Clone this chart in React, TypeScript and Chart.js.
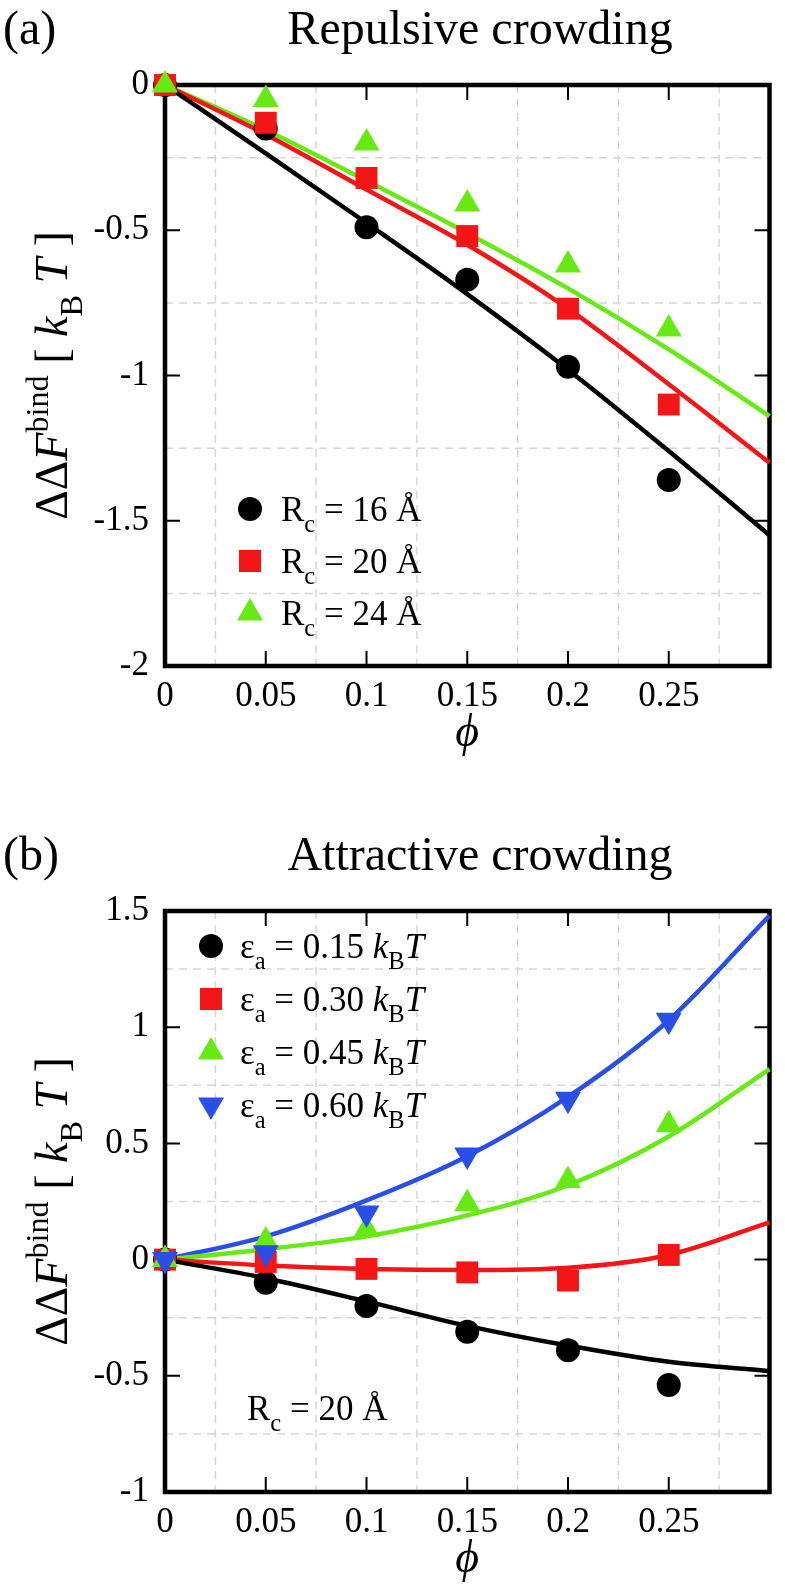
import React, { useEffect, useRef } from 'react';
import { Chart, registerables } from 'chart.js';

Chart.register(...registerables);

// ---------- data ----------
const phi = [0, 0.05, 0.1, 0.15, 0.2, 0.25];
const fitPhi = [0, 0.05, 0.1, 0.15, 0.2, 0.25, 0.3];

const xTicks = [0, 0.05, 0.1, 0.15, 0.2, 0.25, 0.3];
const xTickLabels = ['0', '0.05', '0.1', '0.15', '0.2', '0.25', ''];
const xMinor = [0.025, 0.075, 0.125, 0.175, 0.225, 0.275];

// Panel (a) repulsive crowding
const repRc16 = [0, -0.15, -0.49, -0.67, -0.97, -1.36];
const repRc20 = [0, -0.13, -0.32, -0.52, -0.77, -1.1];
const repRc24 = [0, -0.05, -0.2, -0.41, -0.62, -0.84];
const repFit16 = [0, -0.235, -0.475, -0.72, -0.98, -1.26, -1.55];
const repFit20 = [0, -0.17, -0.36, -0.55, -0.77, -1.03, -1.3];
const repFit24 = [0, -0.155, -0.33, -0.51, -0.7, -0.91, -1.14];
const yTicksA = [0, -0.5, -1, -1.5, -2];
const yTickLabelsA = ['0', '-0.5', '-1', '-1.5', '-2'];
const yMinorA = [-0.25, -0.75, -1.25, -1.75];

// Panel (b) attractive crowding
const attE15 = [0, -0.1, -0.2, -0.31, -0.39, -0.54];
const attE30 = [0, -0.01, -0.04, -0.055, -0.09, 0.02];
const attE45 = [0, 0.08, 0.13, 0.24, 0.34, 0.58];
const attE60 = [0, 0.03, 0.2, 0.45, 0.69, 1.03];
const attFit15 = [0, -0.08, -0.18, -0.285, -0.37, -0.44, -0.48];
const attFit30 = [0, -0.025, -0.04, -0.045, -0.035, 0.02, 0.16];
const attFit45 = [0, 0.045, 0.1, 0.19, 0.32, 0.53, 0.82];
const attFit60 = [0, 0.1, 0.255, 0.445, 0.7, 1.03, 1.48];
const yTicksB = [1.5, 1, 0.5, 0, -0.5, -1];
const yTickLabelsB = ['1.5', '1', '0.5', '0', '-0.5', '-1'];
const yMinorB = [1.25, 0.75, 0.25, -0.25, -0.75];

const legendA = ['16', '20', '24'];
const legendB = ['0.15', '0.30', '0.45', '0.60'];

// ---------- style ----------
const FONT = '"Liberation Serif", "Times New Roman", serif';
const BLACK = '#000000';
const RED = '#f41616';
const GREEN = '#66ea14';
const BLUE = '#2a4fe6';

type Run = { t: string; it?: boolean; pos?: 'sup' | 'sub' };

function drawRuns(ctx: CanvasRenderingContext2D, runs: Run[], x: number, y: number, size: number, align: 'left' | 'center') {
  const small = size * 0.7;
  let total = 0;
  const parts = runs.map((r) => {
    const s = r.pos ? small : size;
    const font = `${r.it ? 'italic ' : ''}${s}px ${FONT}`;
    ctx.font = font;
    const w = ctx.measureText(r.t).width;
    total += w;
    return { ...r, font, w };
  });
  let cx = align === 'center' ? x - total / 2 : x;
  ctx.textAlign = 'left';
  ctx.textBaseline = 'alphabetic';
  for (const p of parts) {
    ctx.font = p.font;
    const dy = p.pos === 'sup' ? -size * 0.42 : p.pos === 'sub' ? size * 0.32 : 0;
    ctx.fillText(p.t, cx, y + dy);
    cx += p.w;
  }
}

function drawMarker(ctx: CanvasRenderingContext2D, kind: string, x: number, y: number, color: string) {
  ctx.fillStyle = color;
  ctx.beginPath();
  if (kind === 'circle') {
    ctx.arc(x, y, 12, 0, Math.PI * 2);
  } else if (kind === 'rect') {
    ctx.rect(x - 11, y - 11, 22, 22);
  } else if (kind === 'up') {
    ctx.moveTo(x, y - 15);
    ctx.lineTo(x + 13, y + 7.5);
    ctx.lineTo(x - 13, y + 7.5);
  } else {
    ctx.moveTo(x, y + 15);
    ctx.lineTo(x + 13, y - 7.5);
    ctx.lineTo(x - 13, y - 7.5);
  }
  ctx.closePath();
  ctx.fill();
}

const pts = (xs: number[], ys: number[]) => xs.map((x, i) => ({ x, y: ys[i] }));

function lineSet(ys: number[], color: string) {
  return {
    data: pts(fitPhi, ys),
    borderColor: color,
    borderWidth: 4.5,
    pointRadius: 0,
    cubicInterpolationMode: 'monotone',
    fill: false,
    clip: false,
    order: 10,
  };
}

function pointSet(ys: number[], color: string, style: string, order: number, rotation = 0) {
  const radius = style === 'circle' ? 12 : style === 'rect' ? 15.5 : 15;
  return {
    data: pts(phi, ys),
    showLine: false,
    pointStyle: style,
    pointRotation: rotation,
    pointRadius: radius,
    backgroundColor: color,
    borderColor: color,
    pointBackgroundColor: color,
    pointBorderWidth: 0,
    clip: false,
    order,
  };
}

type PanelCfg = {
  label: string;
  title: string;
  yMin: number;
  yMax: number;
  yTicks: number[];
  yTickLabels: string[];
  yMinor: number[];
  datasets: any[];
  legend: (ctx: CanvasRenderingContext2D, chart: any) => void;
  height: number;
};

const AREA_TOP = 85;
const AREA_BOTTOM = 666;
const AREA_LEFT = 165;
const AREA_RIGHT = 779.5;

function makeChart(canvas: HTMLCanvasElement, cfg: PanelCfg) {
  const decor = {
    id: 'decor',
    beforeDatasetsDraw(chart: any) {
      const { ctx, chartArea: a, scales } = chart;
      const xs = scales.x;
      const ys = scales.y;
      ctx.save();
      // minor dashed grid
      ctx.strokeStyle = '#d6d6d6';
      ctx.lineWidth = 1.5;
      ctx.setLineDash([8, 6]);
      for (const v of xMinor) {
        const px = xs.getPixelForValue(v);
        ctx.beginPath();
        ctx.moveTo(px, a.top);
        ctx.lineTo(px, a.bottom);
        ctx.stroke();
      }
      for (const v of cfg.yMinor) {
        const py = ys.getPixelForValue(v);
        ctx.beginPath();
        ctx.moveTo(a.left, py);
        ctx.lineTo(a.right, py);
        ctx.stroke();
      }
      ctx.setLineDash([]);
      // major ticks, inward, mirrored
      ctx.strokeStyle = '#000';
      ctx.lineWidth = 2;
      const tl = 15;
      for (const v of xTicks) {
        const px = xs.getPixelForValue(v);
        ctx.beginPath();
        ctx.moveTo(px, a.bottom);
        ctx.lineTo(px, a.bottom - tl);
        ctx.moveTo(px, a.top);
        ctx.lineTo(px, a.top + tl);
        ctx.stroke();
      }
      for (const v of cfg.yTicks) {
        const py = ys.getPixelForValue(v);
        ctx.beginPath();
        ctx.moveTo(a.left, py);
        ctx.lineTo(a.left + tl, py);
        ctx.moveTo(a.right, py);
        ctx.lineTo(a.right - tl, py);
        ctx.stroke();
      }
      // frame
      ctx.lineWidth = 4.5;
      ctx.strokeRect(a.left, a.top, a.right - a.left, a.bottom - a.top);
      ctx.restore();
    },
    afterDraw(chart: any) {
      const { ctx, chartArea: a } = chart;
      ctx.save();
      ctx.fillStyle = '#000';
      // panel label and title
      ctx.font = `48px ${FONT}`;
      ctx.textAlign = 'left';
      ctx.textBaseline = 'alphabetic';
      ctx.fillText(cfg.label, 3, 44);
      ctx.textAlign = 'center';
      ctx.fillText(cfg.title, 480, 44);
      // x axis title
      ctx.font = `italic 46px ${FONT}`;
      ctx.fillText('\u03D5', (a.left + a.right) / 2, a.bottom + 80);
      // y axis title
      ctx.save();
      ctx.translate(67, (a.top + a.bottom) / 2);
      ctx.rotate(-Math.PI / 2);
      drawRuns(
        ctx,
        [
          { t: '\u0394\u0394' },
          { t: 'F', it: true },
          { t: 'bind', pos: 'sup' },
          { t: ' [ ' },
          { t: 'k', it: true },
          { t: 'B', pos: 'sub' },
          { t: ' ' },
          { t: 'T', it: true },
          { t: ' ]' },
        ],
        0,
        0,
        46,
        'center'
      );
      ctx.restore();
      cfg.legend(ctx, chart);
      ctx.restore();
    },
  };

  const tickFont = { family: FONT, size: 35 };

  return new Chart(canvas, {
    type: 'line',
    data: { datasets: cfg.datasets },
    options: {
      responsive: false,
      maintainAspectRatio: false,
      animation: false,
      devicePixelRatio: 1,
      events: [],
      layout: { padding: { top: AREA_TOP, left: 0, right: 785 - AREA_RIGHT, bottom: 0 } },
      plugins: { legend: { display: false }, tooltip: { enabled: false } },
      scales: {
        x: {
          type: 'linear',
          min: 0,
          max: 0.3,
          grid: { display: false, drawTicks: false },
          border: { display: false },
          afterBuildTicks: (s: any) => {
            s.ticks = xTicks.map((v) => ({ value: v }));
          },
          afterFit: (s: any) => {
            s.height = cfg.height - AREA_BOTTOM;
          },
          ticks: {
            autoSkip: false,
            maxRotation: 0,
            minRotation: 0,
            padding: 10,
            color: '#000',
            font: tickFont,
            callback: (_v: any, i: number) => xTickLabels[i],
          },
        },
        y: {
          type: 'linear',
          min: cfg.yMin,
          max: cfg.yMax,
          grid: { display: false, drawTicks: false },
          border: { display: false },
          afterBuildTicks: (s: any) => {
            s.ticks = cfg.yTicks.map((v) => ({ value: v }));
          },
          afterFit: (s: any) => {
            s.width = AREA_LEFT;
          },
          ticks: {
            autoSkip: false,
            padding: 16,
            color: '#000',
            font: tickFont,
            callback: (_v: any, i: number) => cfg.yTickLabels[i],
          },
        },
      },
    },
    plugins: [decor],
  } as any);
}

const LEG_FONT = 35;

function legendA_draw(ctx: CanvasRenderingContext2D) {
  const kinds = ['circle', 'rect', 'up'];
  const colors = [BLACK, RED, GREEN];
  legendA.forEach((val, i) => {
    const cy = 509 + i * 52;
    drawMarker(ctx, kinds[i], 250, cy, colors[i]);
    ctx.fillStyle = '#000';
    drawRuns(ctx, [{ t: 'R' }, { t: 'c', pos: 'sub' }, { t: ` = ${val} \u00C5` }], 281, cy + 12, LEG_FONT, 'left');
  });
}

function legendB_draw(ctx: CanvasRenderingContext2D) {
  const kinds = ['circle', 'rect', 'up', 'down'];
  const colors = [BLACK, RED, GREEN, BLUE];
  legendB.forEach((val, i) => {
    const cy = 120 + i * 53;
    drawMarker(ctx, kinds[i], 211, cy, colors[i]);
    ctx.fillStyle = '#000';
    drawRuns(
      ctx,
      [
        { t: '\u03B5' },
        { t: 'a', pos: 'sub' },
        { t: ` = ${val} ` },
        { t: 'k', it: true },
        { t: 'B', pos: 'sub' },
        { t: 'T', it: true },
      ],
      240,
      cy + 12,
      LEG_FONT,
      'left'
    );
  });
  ctx.fillStyle = '#000';
  drawRuns(ctx, [{ t: 'R' }, { t: 'c', pos: 'sub' }, { t: ' = 20 \u00C5' }], 247, 594, LEG_FONT, 'left');
}

const H_A = 826;
const H_B = 1595 - 826;

export default function App() {
  const refA = useRef<HTMLCanvasElement>(null);
  const refB = useRef<HTMLCanvasElement>(null);

  useEffect(() => {
    const chartA = makeChart(refA.current!, {
      label: '(a)',
      title: 'Repulsive crowding',
      yMin: -2,
      yMax: 0,
      yTicks: yTicksA,
      yTickLabels: yTickLabelsA,
      yMinor: yMinorA,
      height: H_A,
      datasets: [
        lineSet(repFit16, BLACK),
        lineSet(repFit20, RED),
        lineSet(repFit24, GREEN),
        pointSet(repRc16, BLACK, 'circle', 3),
        pointSet(repRc20, RED, 'rect', 2),
        pointSet(repRc24, GREEN, 'triangle', 1),
      ],
      legend: legendA_draw,
    });
    const chartB = makeChart(refB.current!, {
      label: '(b)',
      title: 'Attractive crowding',
      yMin: -1,
      yMax: 1.5,
      yTicks: yTicksB,
      yTickLabels: yTickLabelsB,
      yMinor: yMinorB,
      height: H_B,
      datasets: [
        lineSet(attFit15, BLACK),
        lineSet(attFit30, RED),
        lineSet(attFit45, GREEN),
        lineSet(attFit60, BLUE),
        pointSet(attE15, BLACK, 'circle', 4),
        pointSet(attE30, RED, 'rect', 3),
        pointSet(attE45, GREEN, 'triangle', 2),
        pointSet(attE60, BLUE, 'triangle', 1, 180),
      ],
      legend: legendB_draw,
    });
    return () => {
      chartA.destroy();
      chartB.destroy();
    };
  }, []);

  return (
    <div style={{ position: 'absolute', left: 0, top: 0, width: 785, height: 1595, background: '#fff' }}>
      <canvas ref={refA} width={785} height={H_A} style={{ display: 'block', width: 785, height: H_A }} />
      <canvas ref={refB} width={785} height={H_B} style={{ display: 'block', width: 785, height: H_B }} />
    </div>
  );
}
